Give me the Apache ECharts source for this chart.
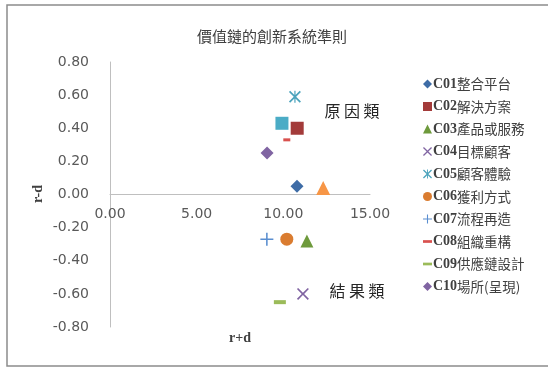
<!DOCTYPE html>
<html>
	<head>
		<meta charset="utf-8">
		<script type="text/javascript" src="https://cdn.jsdelivr.net/npm/echarts@6/dist/echarts.min.js"></script>
		<style>
			html, body { margin: 0; padding: 0; background: #fff; }
		</style>
	</head>
	<body>
		<div id="main" style="width:548px;height:369px;"></div>
		<script type="text/javascript">
			// 數據：r+d (x) 與 r-d (y)
			var names = ['C01整合平台', 'C02解決方案', 'C03產品或服務', 'C04目標顧客', 'C05顧客體驗',
				'C06獲利方式', 'C07流程再造', 'C08組織重構', 'C09供應鏈設計', 'C10場所(呈現)', 'C11', 'C12'];
			var rPlusD = [10.79, 10.80, 11.36, 11.13, 10.67, 10.20, 9.05, 10.20, 9.80, 9.06, 9.92, 12.30];
			var rMinusD = [0.05, 0.40, -0.28, -0.60, 0.59, -0.27, -0.27, 0.33, -0.65, 0.25, 0.43, 0.04];
			var legendCount = 10;

			// 樣式
			var pathX = 'path://M0,1L1,0L5,4L9,0L10,1L6,5L10,9L9,10L5,6L1,10L0,9L4,5Z';
			var pathStar = 'path://M4.5,0H5.5V10H4.5Z M0,1L1,0L10,9L9,10Z M9,0L10,1L1,10L0,9Z';
			var pathPlus = 'path://M4.4,0H5.6V4.4H10V5.6H5.6V10H4.4V5.6H0V4.4H4.4Z';
			var pathDash = 'path://M0,0H10V3H0Z';
			var symbols = ['diamond', 'rect', 'triangle', pathX, pathStar, 'circle', pathPlus, 'rect', 'rect', 'diamond', 'rect', 'triangle'];
			var legendIcons = ['diamond', 'rect', 'triangle', pathX, pathStar, 'circle', pathPlus, pathDash, pathDash, 'diamond'];
			var sizes = [13, 13, 13, 12, 12, 13, 13, [7, 3], [12, 4], 13, 13, 14];
			var colors = ['#3E6CA6', '#A33B3A', '#6E9A3C', '#8064A2', '#4BA3BC', '#DA7C30',
				'#5A8ED0', '#D9514E', '#9BBB59', '#8064A2', '#4BACC6', '#F79646'];

			var fontSerif = "'Liberation Serif', 'Noto Sans CJK TC', serif";
			var fontCJK = "'Noto Sans CJK TC'";

			var myChart = echarts.init(document.getElementById('main'), null, { renderer: 'canvas' });

			var series = [];
			for (var i = 0; i < names.length; i++) {
				series.push({
					name: names[i],
					type: 'scatter',
					symbol: symbols[i],
					symbolSize: sizes[i],
					itemStyle: { color: colors[i], opacity: 1 },
					data: [[rPlusD[i], rMinusD[i]]]
				});
			}

			var legendData = [];
			for (var j = 0; j < legendCount; j++) {
				legendData.push({ name: names[j], icon: legendIcons[j] });
			}

			var axisLabelStyle = {
				fontSize: 14,
				color: '#595959',
				fontFamily: "'DejaVu Sans'",
				formatter: function (v) { return v.toFixed(2); }
			};

			var option = {
				animation: false,
				title: {
					text: '價值鏈的創新系統準則',
					left: 192,
					top: 24,
					textStyle: { fontSize: 15, fontWeight: 'normal', color: '#404040', fontFamily: fontCJK }
				},
				legend: {
					orient: 'vertical',
					left: 418,
					top: 72,
					itemWidth: 9,
					itemHeight: 9,
					itemGap: 8.5,
					data: legendData,
					formatter: function (name) {
						return '{c|' + name.slice(0, 3) + '}{n|' + name.slice(3) + '}';
					},
					textStyle: {
						fontSize: 13,
						color: '#404040',
						padding: [0, 0, 0, -4],
						rich: {
							c: { fontSize: 14, fontWeight: 'bold', fontFamily: "'Liberation Serif'", color: '#404040' },
							n: { fontSize: 13.5, fontFamily: fontCJK, color: '#404040' }
						}
					}
				},
				grid: {
					left: 110,
					right: 178,
					top: 62,
					bottom: 42,
					containLabel: false,
					outerBoundsMode: 'none'
				},
				xAxis: {
					type: 'value',
					min: 0,
					max: 15,
					interval: 5,
					// 軸線放在 y=0 位置
					offset: -133,
					axisLine: { onZero: false, lineStyle: { color: '#bfbfbf', width: 1 } },
					axisTick: { show: false },
					splitLine: { show: false },
					axisLabel: Object.assign({ margin: 13 }, axisLabelStyle)
				},
				yAxis: {
					type: 'value',
					min: -0.8,
					max: 0.8,
					interval: 0.2,
					axisLine: { show: true, onZero: false, lineStyle: { color: '#bfbfbf', width: 1 } },
					axisTick: { show: false },
					splitLine: { show: false },
					axisLabel: Object.assign({ margin: 21 }, axisLabelStyle)
				},
				graphic: [
					{
						type: 'rect',
						shape: { x: 7, y: 5, width: 560, height: 361 },
						style: { fill: 'none', stroke: '#8c8c8c', lineWidth: 1.5 },
						silent: true
					},
					{
						type: 'text',
						x: 240, y: 338,
						style: { text: 'r+d', fontSize: 14, fontWeight: 'bold', fill: '#404040', fontFamily: fontSerif, align: 'center', verticalAlign: 'middle' }
					},
					{
						type: 'text',
						x: 38, y: 194,
						rotation: Math.PI / 2,
						style: { text: 'r-d', fontSize: 14, fontWeight: 'bold', fill: '#404040', fontFamily: fontSerif, align: 'center', verticalAlign: 'middle' }
					},
					{
						type: 'text',
						x: 352, y: 111,
						style: { text: '原 因 類', fontSize: 16, fill: '#262626', fontFamily: fontCJK, align: 'center', verticalAlign: 'middle' }
					},
					{
						type: 'text',
						x: 357, y: 291,
						style: { text: '結 果 類', fontSize: 16, fill: '#262626', fontFamily: fontCJK, align: 'center', verticalAlign: 'middle' }
					}
				],
				series: series
			};

			myChart.setOption(option);
		</script>
	</body>
</html>
